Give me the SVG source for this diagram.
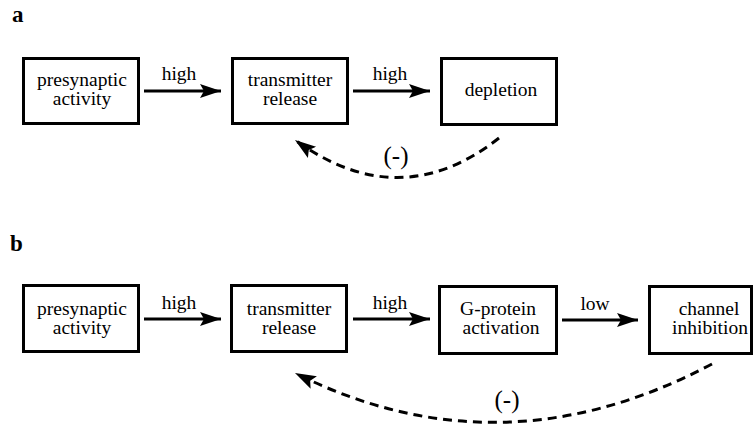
<svg xmlns="http://www.w3.org/2000/svg" width="755" height="425" viewBox="0 0 755 425">
  <style>
    .box { fill: #fff; stroke: #000; stroke-width: 3; }
    text { font-family: 'Liberation Serif', 'Times New Roman', Times, serif; fill: #000; }
    .t { font-size: 19.5px; text-anchor: middle; }
    .sign { font-size: 25px; text-anchor: middle; }
    .panel { font-size: 23px; font-weight: bold; }
    .arrow { fill: none; stroke: #000; stroke-width: 3; marker-end: url(#head); }
    .dash { fill: none; stroke: #000; stroke-width: 3; stroke-dasharray: 9 6; marker-end: url(#head); }
  </style>
  <defs>
    <marker id="head" markerUnits="userSpaceOnUse" markerWidth="22" markerHeight="16" refX="21" refY="7" orient="auto">
      <path d="M0,0 L21,7 L0,14 L4,7 z" fill="#000"/>
    </marker>
  </defs>
  <rect width="755" height="425" fill="#fff"/>

  <!-- panel a -->
  <text class="panel" x="12" y="22">a</text>
  <g id="a-presynaptic">
    <rect class="box" x="23.5" y="58.5" width="115" height="65"/>
    <text class="t" x="82" y="86">presynaptic</text>
    <text class="t" x="82" y="105">activity</text>
  </g>
  <g id="a-release">
    <rect class="box" x="232.5" y="58.5" width="115" height="65"/>
    <text class="t" x="290" y="86">transmitter</text>
    <text class="t" x="290" y="105">release</text>
  </g>
  <g id="a-depletion">
    <rect class="box" x="441.5" y="58.5" width="115" height="66"/>
    <text class="t" x="501" y="96">depletion</text>
  </g>
  <g id="a-connectors">
    <path class="arrow" d="M144,91 L221,91"/>
    <text class="t" x="179" y="80">high</text>
    <path class="arrow" d="M353,91 L430,91"/>
    <text class="t" x="390" y="80">high</text>
    <path class="dash" d="M499,138 Q400,216 295,140"/>
    <text class="sign" x="396" y="164">(-)</text>
  </g>

  <!-- panel b -->
  <text class="panel" x="10" y="251">b</text>
  <g id="b-presynaptic">
    <rect class="box" x="23.5" y="285.5" width="115" height="66"/>
    <text class="t" x="82" y="315">presynaptic</text>
    <text class="t" x="82" y="334">activity</text>
  </g>
  <g id="b-release">
    <rect class="box" x="231.5" y="285.5" width="115" height="66"/>
    <text class="t" x="289" y="315">transmitter</text>
    <text class="t" x="289" y="334">release</text>
  </g>
  <g id="b-gprotein">
    <rect class="box" x="439.5" y="286.5" width="117" height="67"/>
    <text class="t" x="498" y="315">G-protein</text>
    <text class="t" x="501" y="334">activation</text>
  </g>
  <g id="b-channel">
    <rect class="box" x="649.5" y="286.5" width="102" height="67"/>
    <text class="t" x="709" y="315">channel</text>
    <text class="t" x="710" y="334">inhibition</text>
  </g>
  <g id="b-connectors">
    <path class="arrow" d="M144,319 L221,319"/>
    <text class="t" x="179" y="309">high</text>
    <path class="arrow" d="M353,319 L430,319"/>
    <text class="t" x="390" y="309">high</text>
    <path class="arrow" d="M562,320 L638,320"/>
    <text class="t" x="595" y="310">low</text>
    <path class="dash" d="M712,364 Q500,476 295,373"/>
    <text class="sign" x="507" y="408">(-)</text>
  </g>
</svg>
